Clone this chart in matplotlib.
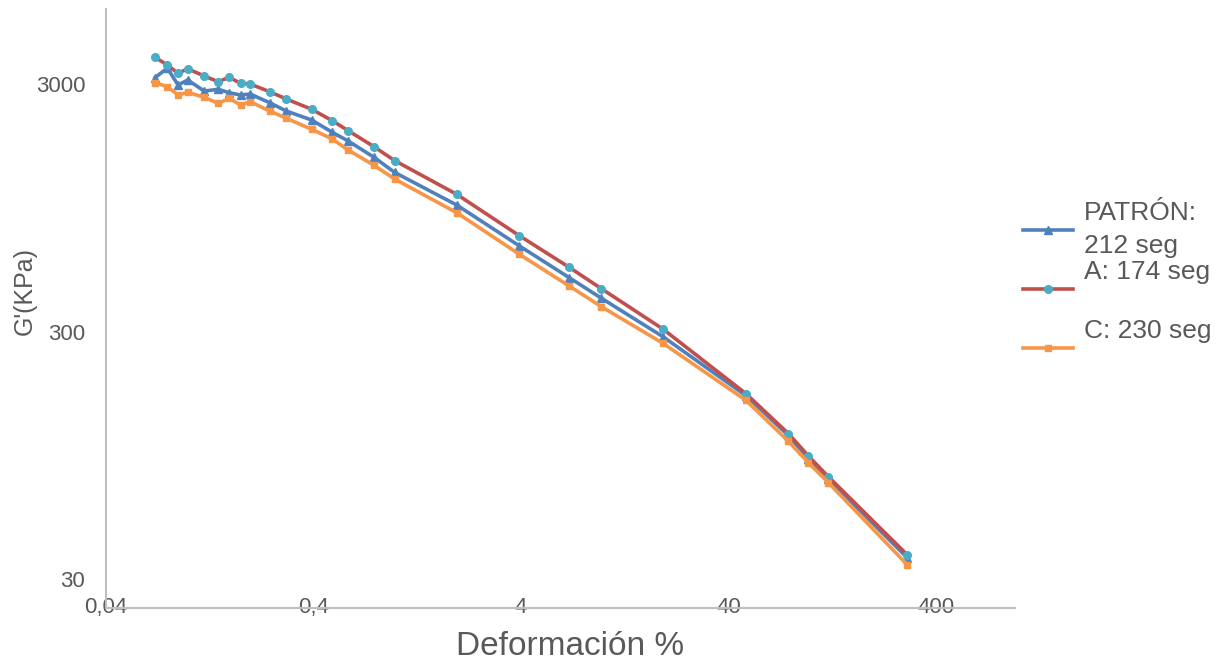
import matplotlib
matplotlib.use("Agg")
import matplotlib.pyplot as plt
from matplotlib.ticker import FixedLocator, FixedFormatter, NullLocator

plt.rcParams['font.family'] = ['Liberation Sans', 'DejaVu Sans']

# Strain (%) values shared by the three samples
deformacion = [0.069, 0.079, 0.089, 0.099, 0.119, 0.139, 0.157, 0.178, 0.198,
               0.246, 0.296, 0.392, 0.493, 0.588, 0.783, 0.983, 1.96, 3.93,
               6.83, 9.75, 19.3, 48.6, 77.7, 97, 121, 291]

# G' (KPa) for each sample
patron = [3187, 3480, 2972, 3114, 2811, 2856, 2767, 2709, 2734, 2521, 2333,
          2146, 1914, 1765, 1517, 1319, 973, 665, 495, 409, 286, 165, 114,
          92, 76, 36.5]
muestra_a = [3846, 3580, 3314, 3459, 3232, 3065, 3194, 3019, 3000, 2793, 2609,
             2371, 2132, 1943, 1674, 1472, 1075, 731, 545, 447, 307, 168, 116,
             94.2, 77.7, 37.5]
muestra_c = [3036, 2926, 2709, 2777, 2651, 2507, 2626, 2468, 2545, 2333, 2181,
             1969, 1798, 1623, 1408, 1240, 906, 615, 458, 378, 269, 158, 108,
             88.5, 73.5, 34.2]

labels = ["PATRÓN:\n212 seg", "A: 174 seg\n", "C: 230 seg\n"]
x_ticks = [0.04, 0.4, 4, 40, 400]
x_tick_labels = ["0,04", "0,4", "4", "40", "400"]
y_ticks = [30, 300, 3000]
y_tick_labels = ["30", "300", "3000"]

gray_text = "#595959"
axis_gray = "#BFBFBF"

fig = plt.figure(figsize=(12.25, 6.64), dpi=100)
ax = fig.add_axes([106 / 1225, 56 / 664, 909 / 1225, 599 / 664])

ax.plot(deformacion, patron, color="#4F81BD", lw=2.6, marker="^", ms=5.5,
        mfc="#4F81BD", mec="#4F81BD", label=labels[0])
ax.plot(deformacion, muestra_a, color="#C0504D", lw=2.6, marker="o", ms=5.5,
        mfc="#4BACC6", mec="#4BACC6", label=labels[1])
ax.plot(deformacion, muestra_c, color="#F79646", lw=2.6, marker="s", ms=4.5,
        mfc="#F79646", mec="#F79646", label=labels[2])

ax.set_xscale("log")
ax.set_yscale("log")
ax.set_xlim(0.04, 960)
ax.set_ylim(22.9, 6030)

ax.xaxis.set_major_locator(FixedLocator(x_ticks))
ax.xaxis.set_major_formatter(FixedFormatter(x_tick_labels))
ax.xaxis.set_minor_locator(NullLocator())
ax.yaxis.set_major_locator(FixedLocator(y_ticks))
ax.yaxis.set_major_formatter(FixedFormatter(y_tick_labels))
ax.yaxis.set_minor_locator(NullLocator())

ax.tick_params(axis="x", length=0, pad=-8, labelsize=16, labelcolor=gray_text)
ax.tick_params(axis="y", length=0, pad=15, labelsize=16, labelcolor=gray_text)

for side in ["top", "right"]:
    ax.spines[side].set_visible(False)
for side in ["left", "bottom"]:
    ax.spines[side].set_color(axis_gray)
    ax.spines[side].set_linewidth(1.5)

ax.set_xlabel("Deformación %", fontsize=24, color=gray_text, va="center")
ax.xaxis.set_label_coords(0.511, -0.065)
ax.set_ylabel("G'(KPa)", fontsize=18, color=gray_text, va="center", ha="center")
ax.yaxis.set_label_coords(-0.089, 0.529)

leg = ax.legend(loc="upper left", bbox_to_anchor=(1023 / 1225, 1 - 201 / 664),
                bbox_transform=fig.transFigure, frameon=False, fontsize=19,
                handlelength=1.9, handletextpad=0.4, labelspacing=0.1,
                borderpad=0, borderaxespad=0)
for t in leg.get_texts():
    t.set_color(gray_text)
    t.set_linespacing(1.45)

fig.savefig("out.png", dpi=100)
